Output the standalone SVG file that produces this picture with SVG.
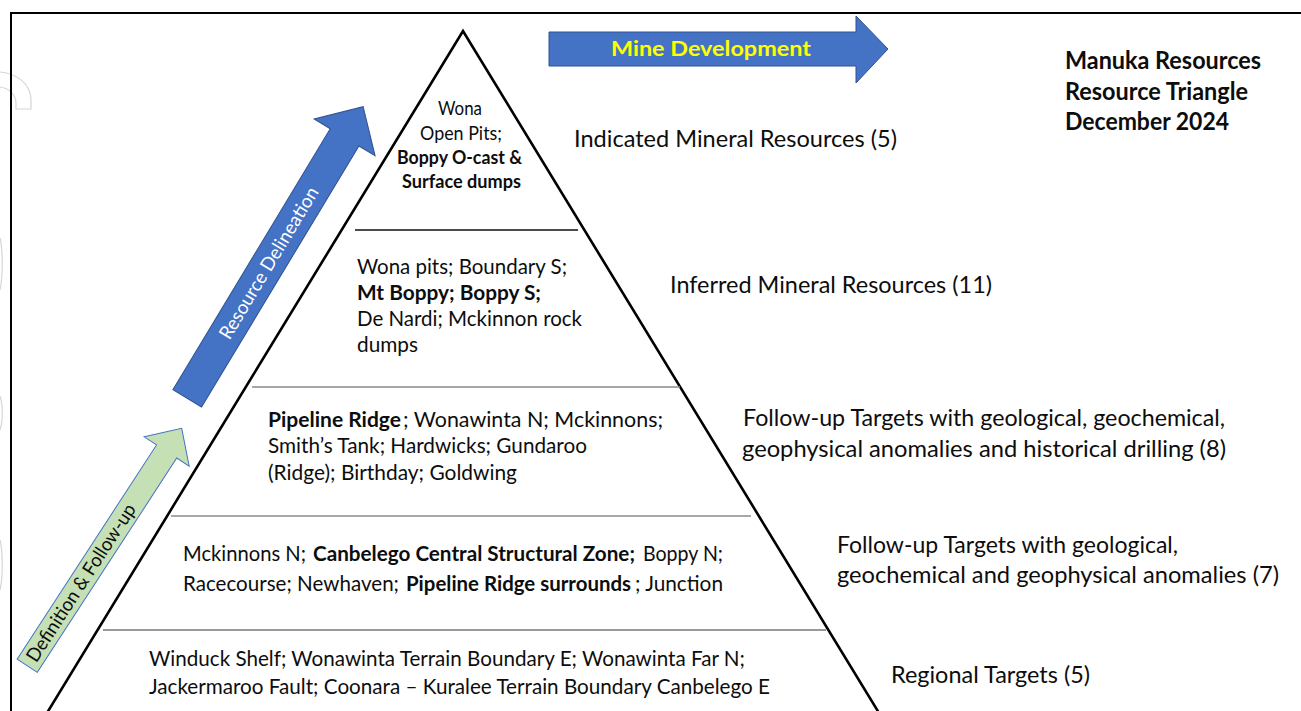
<svg xmlns="http://www.w3.org/2000/svg" width="1301" height="711" viewBox="0 0 1301 711">
  <style>
    text { font-family: Lato, "Liberation Sans", "DejaVu Sans", sans-serif; fill: #0d0d0d; }
    .lbl { font-size: 24px; }
    .ttl { font-size: 24px; font-weight: bold; }
    .tri { font-size: 21.5px; }
    .top { font-size: 19.5px; text-anchor: middle; }
    .b { font-weight: bold; }
    .div { stroke-width: 1.6; fill: none; }
    .faint { fill: none; stroke: #d6d6d6; stroke-width: 1.2; }
  </style>
  <rect width="1301" height="711" fill="#fff"/>

  <g id="artifacts">
    <path class="faint" d="M0,72 C18,74 30,84 31,99 L31,109 L16,109 L16,103 C16,95 9,88 0,87"/>
    <path class="faint" stroke="#ececec" d="M0,238 C3,250 3,276 0,290"/>
    <path class="faint" stroke="#ececec" d="M0,396 C3,404 3,422 0,430"/>
    <path class="faint" stroke="#ececec" d="M0,540 C3,552 3,578 0,590"/>
  </g>

  <g id="frame">
    <path d="M11,711 V13 H1301" fill="none" stroke="#000" stroke-width="2"/>
  </g>

  <g id="pyramid">
    <path d="M42.7,720 L463,31 L883.3,720" fill="none" stroke="#000" stroke-width="2.6" stroke-linejoin="miter"/>
    <line class="div" x1="355" y1="230" x2="578" y2="230" stroke="#111" stroke-width="1.3"/>
    <line class="div" x1="252" y1="387" x2="680" y2="387" stroke="#8a8a8a" stroke-width="2"/>
    <line class="div" x1="171" y1="516" x2="751" y2="516" stroke="#8a8a8a"/>
    <line class="div" x1="103" y1="630" x2="826" y2="630" stroke="#777" stroke-width="2"/>
  </g>

  <g id="tier1">
    <text class="top" x="460" y="114.5" textLength="44" lengthAdjust="spacingAndGlyphs">Wona</text>
    <text class="top" x="461" y="139.5" textLength="82" lengthAdjust="spacingAndGlyphs">Open Pits;</text>
    <text class="top b" x="459.5" y="163.5" textLength="125" lengthAdjust="spacingAndGlyphs">Boppy O-cast &amp;</text>
    <text class="top b" x="461.5" y="187.5" textLength="119" lengthAdjust="spacingAndGlyphs">Surface dumps</text>
  </g>

  <g id="tier2">
    <text class="tri" x="357" y="273.5" textLength="210" lengthAdjust="spacingAndGlyphs">Wona pits; Boundary S;</text>
    <text class="tri b" x="357" y="299.5" textLength="184" lengthAdjust="spacingAndGlyphs">Mt Boppy; Boppy S;</text>
    <text class="tri" x="357" y="326" textLength="225" lengthAdjust="spacingAndGlyphs">De Nardi; Mckinnon rock</text>
    <text class="tri" x="357" y="352" textLength="61" lengthAdjust="spacingAndGlyphs">dumps</text>
  </g>

  <g id="tier3">
    <text class="tri b" x="268" y="426.5" textLength="133" lengthAdjust="spacingAndGlyphs">Pipeline Ridge</text>
    <text class="tri" x="403" y="426.5" textLength="260" lengthAdjust="spacingAndGlyphs">; Wonawinta N; Mckinnons;</text>
    <text class="tri" x="268" y="453" textLength="319" lengthAdjust="spacingAndGlyphs">Smith’s Tank; Hardwicks; Gundaroo</text>
    <text class="tri" x="268" y="479.5" textLength="249" lengthAdjust="spacingAndGlyphs">(Ridge); Birthday; Goldwing</text>
  </g>

  <g id="tier4">
    <text class="tri" x="183" y="560.5" textLength="123" lengthAdjust="spacingAndGlyphs">Mckinnons N;</text>
    <text class="tri b" x="313" y="560.5" textLength="322" lengthAdjust="spacingAndGlyphs">Canbelego Central Structural Zone;</text>
    <text class="tri" x="643" y="560.5" textLength="80" lengthAdjust="spacingAndGlyphs">Boppy N;</text>
    <text class="tri" x="183" y="590.5" textLength="216" lengthAdjust="spacingAndGlyphs">Racecourse; Newhaven;</text>
    <text class="tri b" x="406" y="590.5" textLength="225" lengthAdjust="spacingAndGlyphs">Pipeline Ridge surrounds</text>
    <text class="tri" x="635" y="590.5" textLength="88" lengthAdjust="spacingAndGlyphs">; Junction</text>
  </g>

  <g id="tier5">
    <text class="tri" x="149" y="665.5" textLength="596" lengthAdjust="spacingAndGlyphs">Winduck Shelf; Wonawinta Terrain Boundary E; Wonawinta Far N;</text>
    <text class="tri" x="149" y="693.5" textLength="621" lengthAdjust="spacingAndGlyphs">Jackermaroo Fault; Coonara – Kuralee Terrain Boundary Canbelego E</text>
  </g>

  <g id="labels">
    <text class="lbl" x="574" y="147" textLength="323" lengthAdjust="spacingAndGlyphs">Indicated Mineral Resources (5)</text>
    <text class="lbl" x="670" y="293" textLength="322" lengthAdjust="spacingAndGlyphs">Inferred Mineral Resources (11)</text>
    <text class="lbl" x="743" y="426" textLength="482" lengthAdjust="spacingAndGlyphs">Follow-up Targets with geological, geochemical,</text>
    <text class="lbl" x="742" y="457" textLength="484" lengthAdjust="spacingAndGlyphs">geophysical anomalies and historical drilling (8)</text>
    <text class="lbl" x="837" y="553" textLength="341" lengthAdjust="spacingAndGlyphs">Follow-up Targets with geological,</text>
    <text class="lbl" x="837" y="583" textLength="442" lengthAdjust="spacingAndGlyphs">geochemical and geophysical anomalies (7)</text>
    <text class="lbl" x="891" y="683" textLength="199" lengthAdjust="spacingAndGlyphs">Regional Targets (5)</text>
  </g>

  <g id="title">
    <text class="ttl" x="1065" y="69" textLength="196" lengthAdjust="spacingAndGlyphs">Manuka Resources</text>
    <text class="ttl" x="1065" y="99.5" textLength="183" lengthAdjust="spacingAndGlyphs">Resource Triangle</text>
    <text class="ttl" x="1065" y="130" textLength="164" lengthAdjust="spacingAndGlyphs">December 2024</text>
  </g>

  <g id="mine-development">
    <polygon points="549,32 856,32 856,16 888,49 856,83 856,66 549,66" fill="#4472C4" stroke="#2F528F" stroke-width="1"/>
    <text x="711" y="56" text-anchor="middle" font-size="21" font-weight="bold" style="fill:#FFFF00" textLength="200" lengthAdjust="spacingAndGlyphs">Mine Development</text>
  </g>

  <g id="resource-delineation" transform="translate(187.2,398.3) rotate(-58.9)">
    <polygon points="0,-16.75 304.7,-16.75 304.7,-35.6 340.6,0 304.7,35.6 304.7,16.75 0,16.75" fill="#4472C4" stroke="#2F528F" stroke-width="1"/>
    <text x="158" y="6.5" text-anchor="middle" font-size="19" style="fill:#fff" textLength="174" lengthAdjust="spacingAndGlyphs">Resource Delineation</text>
  </g>

  <g id="definition-follow-up" transform="translate(27.2,665.8) rotate(-56.95)">
    <polygon points="0,-12.05 255.7,-12.05 255.7,-26.85 283.3,0 255.7,26.85 255.7,12.05 0,12.05" fill="#C5E0B4" stroke="#4472C4" stroke-width="1"/>
    <text x="99" y="6.3" text-anchor="middle" font-size="19" textLength="184" lengthAdjust="spacingAndGlyphs">Definition &amp; Follow-up</text>
  </g>
</svg>
